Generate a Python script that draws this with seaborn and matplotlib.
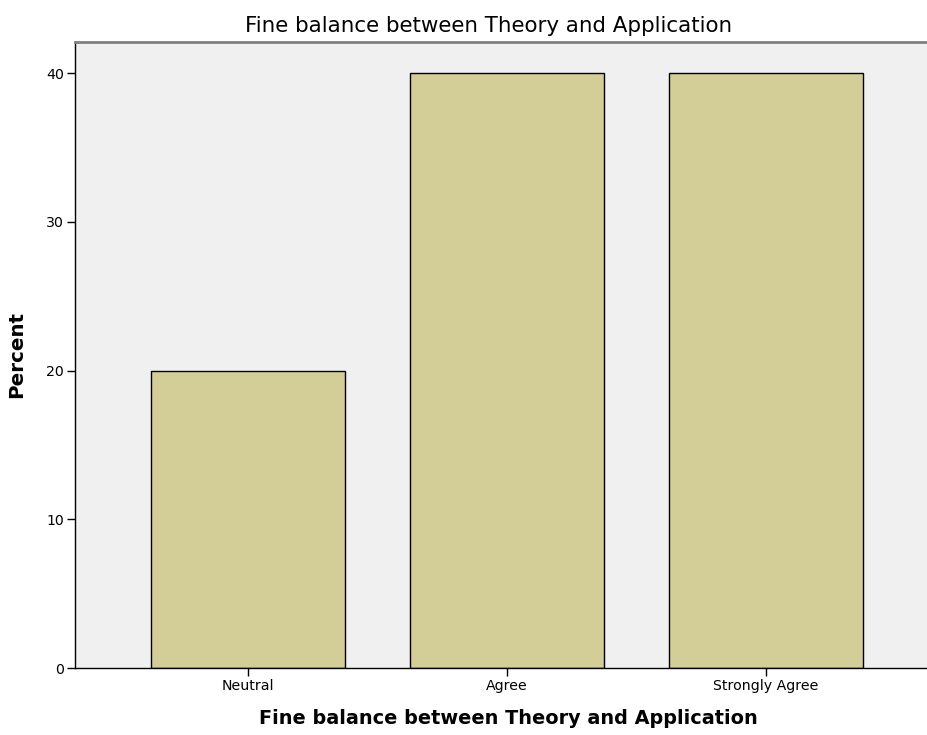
import matplotlib
matplotlib.use("Agg")
import matplotlib.pyplot as plt
import seaborn as sns
import pandas as pd

# data
categories = ["Neutral", "Agree", "Strongly Agree"]
percent = [20, 40, 40]

df = pd.DataFrame({"response": categories, "percent": percent})

sns.set_style("white")
plt.rcParams["font.family"] = ["DejaVu Sans"]
plt.rcParams["text.color"] = "black"
plt.rcParams["axes.labelcolor"] = "black"
plt.rcParams["xtick.color"] = "black"
plt.rcParams["ytick.color"] = "black"

fig = plt.figure(figsize=(9.28, 7.35), dpi=100)
ax = fig.add_axes([75 / 928, 67 / 735, 1 - 75 / 928, 626 / 735])
ax.set_facecolor("#F0F0F0")

sns.barplot(data=df, x="response", y="percent", color="#D3CE97",
            saturation=1, width=0.75, edgecolor="black", linewidth=1, ax=ax)

ax.set_xlim(-0.668, 2.625)
ax.set_ylim(0, 42.1)
ax.set_yticks([0, 10, 20, 30, 40])

for s in ["left", "bottom"]:
    ax.spines[s].set_color("black")
    ax.spines[s].set_linewidth(1)
ax.spines["right"].set_visible(False)
ax.spines["top"].set_color("#808080")
ax.spines["top"].set_linewidth(2)

ax.tick_params(axis="both", length=6, width=1, labelsize=10.2, pad=2,
               bottom=True, left=True)

ax.set_xlabel("Fine balance between Theory and Application", fontsize=13.9,
              fontweight="bold")
ax.xaxis.set_label_coords(0.508, -0.066)
ax.set_ylabel("Percent", fontsize=14.3, fontweight="bold", labelpad=14)
ax.set_title("Fine balance between Theory and Application", fontsize=15.4,
             pad=7, x=0.485)

fig.savefig("out.png", dpi=100)
